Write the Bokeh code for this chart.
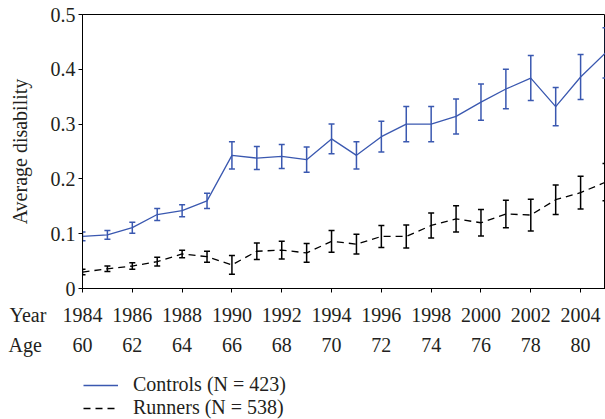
from bokeh.plotting import figure
from bokeh.models import (ColumnDataSource, Whisker, TeeHead, LinearAxis, FixedTicker,
                          Range1d, Legend, LegendItem)
from bokeh.embed import file_html
from bokeh.resources import INLINE

# ---- data ----
years = [1984, 1985, 1986, 1987, 1988, 1989, 1990, 1991, 1992, 1993, 1994,
         1995, 1996, 1997, 1998, 1999, 2000, 2001, 2002, 2003, 2004, 2005]
controls = [0.095, 0.098, 0.111, 0.135, 0.142, 0.160, 0.243, 0.238, 0.241, 0.235, 0.273,
            0.243, 0.277, 0.300, 0.300, 0.314, 0.340, 0.364, 0.384, 0.332, 0.386, 0.430]
controls_err = [0.008, 0.008, 0.010, 0.011, 0.011, 0.014, 0.025, 0.021, 0.022, 0.023, 0.027,
                0.025, 0.028, 0.032, 0.032, 0.032, 0.033, 0.036, 0.041, 0.035, 0.041, 0.046]
runners = [0.030, 0.036, 0.041, 0.049, 0.063, 0.058, 0.043, 0.068, 0.070, 0.065, 0.086,
           0.081, 0.095, 0.095, 0.115, 0.127, 0.120, 0.136, 0.134, 0.162, 0.175, 0.194]
runners_err = [0.005, 0.005, 0.006, 0.008, 0.007, 0.010, 0.017, 0.015, 0.016, 0.017, 0.020,
               0.018, 0.020, 0.021, 0.023, 0.024, 0.024, 0.025, 0.029, 0.027, 0.030, 0.034]
year_ticks = [1984, 1986, 1988, 1990, 1992, 1994, 1996, 1998, 2000, 2002, 2004]
age_labels = ["60", "62", "64", "66", "68", "70", "72", "74", "76", "78", "80"]
y_ticks = [0, 0.1, 0.2, 0.3, 0.4, 0.5]
y_tick_labels = ["0", "0.1", "0.2", "0.3", "0.4", "0.5"]
row_names = ["Year", "Age"]
series_names = ["Controls (N = 423)", "Runners (N = 538)"]

BLUE = "#3a58b0"
FONT = "Liberation Serif"
FS = "20px"
TXT = "#231f20"

# ---- layout sizes ----
W = 605
LEFT = 82          # frame left of the chart
TOP = 14
FRAME_H = 274
BOT = 12           # space under the chart frame (tick marks, room for the "0" label)
X0, X1 = 1984, 2005
px_per_year = (W - LEFT) / (X1 - X0)
X0_wide = X1 - (W - 8) / px_per_year   # range of the lower strip (starts at x=8)

src_c = ColumnDataSource(dict(x=years, y=controls,
                              lo=[v - e for v, e in zip(controls, controls_err)],
                              hi=[v + e for v, e in zip(controls, controls_err)]))
src_r = ColumnDataSource(dict(x=years, y=runners,
                              lo=[v - e for v, e in zip(runners, runners_err)],
                              hi=[v + e for v, e in zip(runners, runners_err)]))

# ================= main chart =================
p = figure(width=W, height=TOP + FRAME_H + BOT, output_backend="svg", toolbar_location=None,
           x_range=Range1d(X0, X1), y_range=Range1d(0, 0.5),
           x_axis_location=None, y_axis_location="left",
           min_border_left=LEFT, min_border_right=0, min_border_top=TOP, min_border_bottom=BOT)
p.background_fill_color = "white"
p.border_fill_color = "white"
p.outline_line_color = "black"
p.outline_line_width = 1
p.xgrid.visible = False
p.ygrid.visible = False

ya = p.yaxis[0]
ya.ticker = FixedTicker(ticks=y_ticks)
ya.major_label_overrides = {t: l for t, l in zip(y_ticks, y_tick_labels)}
ya.minor_tick_line_color = None
ya.major_tick_in = 0
ya.major_tick_out = 4
ya.major_label_standoff = 3
ya.axis_line_color = "black"
ya.major_label_text_font = FONT
ya.major_label_text_font_size = FS
ya.major_label_text_color = TXT
ya.axis_label = "Average disability"
ya.axis_label_text_font = FONT
ya.axis_label_text_font_size = FS
ya.axis_label_text_font_style = "normal"
ya.axis_label_text_color = TXT
ya.axis_label_standoff = 17

# tick marks of the year axis
ta = LinearAxis(ticker=FixedTicker(ticks=year_ticks))
ta.major_label_overrides = {t: "" for t in year_ticks}
ta.major_label_text_font_size = "0px"
ta.major_label_standoff = 0
ta.minor_tick_line_color = None
ta.major_tick_in = 0
ta.major_tick_out = 4
ta.axis_line_color = "black"
p.add_layout(ta, "below")

lc = p.line("x", "y", source=src_c, line_color=BLUE, line_width=1.3)
lr = p.line("x", "y", source=src_r, line_color="black", line_width=1.3, line_dash="7 5")

for src, col in ((src_c, BLUE), (src_r, "black")):
    p.add_layout(Whisker(base="x", lower="lo", upper="hi", source=src,
                         line_color=col, line_width=1.5,
                         upper_head=TeeHead(size=6, line_color=col, line_width=1.5),
                         lower_head=TeeHead(size=6, line_color=col, line_width=1.5)))

# ================= lower strip: Year / Age rows and legend =================
H2 = 419 - (TOP + FRAME_H + BOT)
# y range of the strip lies above the data, so the legend's lines stay out of view
q = figure(width=W, height=H2, output_backend="svg", toolbar_location=None,
           x_range=Range1d(X0_wide, X1), y_range=Range1d(1, 2),
           x_axis_location=None, y_axis_location=None,
           min_border_left=8, min_border_right=0, min_border_top=0, min_border_bottom=0)
q.outline_line_color = None
q.background_fill_color = "white"
q.border_fill_color = "white"
q.xgrid.visible = False
q.ygrid.visible = False

year_pos = X0 - (LEFT - 8 - 19.4) / px_per_year   # centre of the "Year" caption
age_pos = X0 - (LEFT - 8 - 16.7) / px_per_year    # centre of the "Age" caption


def label_axis(ticks, labels, standoff):
    ax = LinearAxis(ticker=FixedTicker(ticks=ticks))
    ax.major_label_overrides = {t: l for t, l in zip(ticks, labels)}
    ax.axis_line_color = None
    ax.major_tick_line_color = None
    ax.minor_tick_line_color = None
    ax.major_tick_in = 0
    ax.major_tick_out = 0
    ax.major_label_standoff = standoff
    ax.major_label_text_font = FONT
    ax.major_label_text_font_size = FS
    ax.major_label_text_color = TXT
    return ax


# first added "above" axis sits closest to the frame
q.add_layout(label_axis([age_pos] + year_ticks, [row_names[1]] + age_labels, 2), "above")
q.add_layout(label_axis([year_pos] + year_ticks,
                        [row_names[0]] + [str(y) for y in year_ticks], 5), "above")

kc = q.line("x", "y", source=src_c, line_color=BLUE, line_width=1.3)
kr = q.line("x", "y", source=src_r, line_color="black", line_width=1.3, line_dash="7 5")
legend = Legend(items=[LegendItem(label=series_names[0], renderers=[kc]),
                       LegendItem(label=series_names[1], renderers=[kr])],
                location=(75, 0), orientation="vertical",
                margin=0, padding=0, spacing=0, glyph_width=35, glyph_height=20,
                label_standoff=15, label_height=20,
                label_text_font=FONT, label_text_font_size=FS, label_text_color=TXT,
                border_line_color=None, background_fill_alpha=0)
q.add_layout(legend)

open("out.html", "w").write(file_html([p, q], INLINE))
